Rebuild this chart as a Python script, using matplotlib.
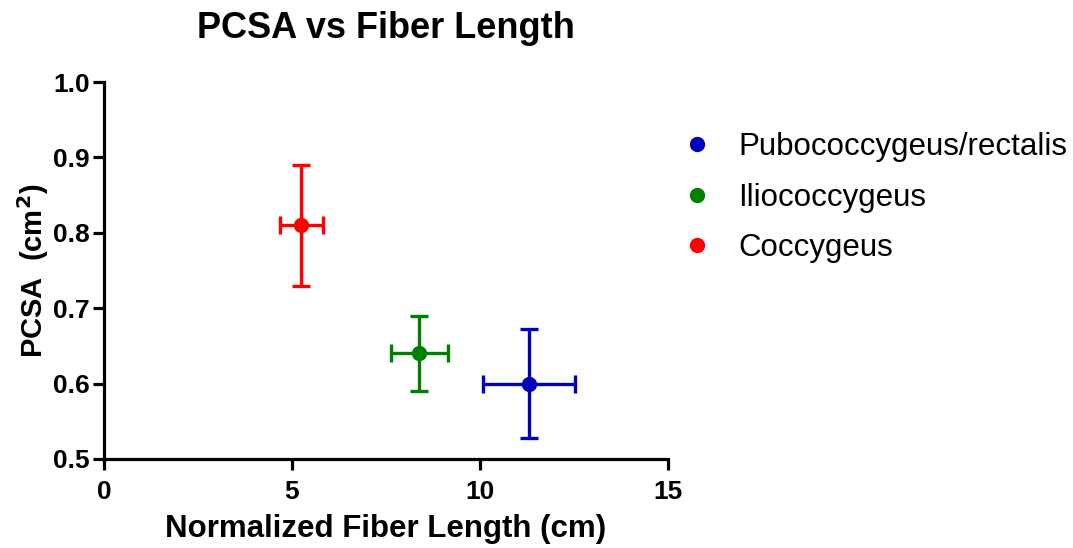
import matplotlib
matplotlib.use("Agg")
import matplotlib.pyplot as plt
from matplotlib.lines import Line2D

plt.rcParams['font.family'] = ['Liberation Sans', 'DejaVu Sans']

# Data
muscles = ["Pubococcygeus/rectalis", "Iliococcygeus", "Coccygeus"]
fiber_length = [11.3, 8.38, 5.25]
fiber_length_err = [1.23, 0.76, 0.58]
pcsa = [0.600, 0.640, 0.810]
pcsa_err = [0.072, 0.050, 0.080]
colors = ["#0000BB", "#008000", "#FF0000"]
x_ticks = [0, 5, 10, 15]
y_ticks = [0.5, 0.6, 0.7, 0.8, 0.9, 1.0]

fig = plt.figure(figsize=(10.73, 5.48), dpi=100)
ax = fig.add_axes([104/1073, 1 - 459/548, 564/1073, 377/548])

handles = []
for name, x, xe, y, ye, c in zip(muscles, fiber_length, fiber_length_err, pcsa, pcsa_err, colors):
    ax.errorbar(x, y, xerr=xe, yerr=ye, fmt='o', color=c, ecolor=c,
                markersize=10, elinewidth=2.4, capsize=6.5, capthick=2.4, zorder=3,
                clip_on=False)
    handles.append(Line2D([0], [0], marker='o', linestyle='none', color=c,
                          markersize=10, label=name))

ax.set_xlim(0, 15)
ax.set_ylim(0.5, 1.0)
ax.set_xticks(x_ticks)
ax.set_yticks(y_ticks)
ax.set_xticklabels([str(v) for v in x_ticks])
ax.set_yticklabels([f"{v:.1f}" for v in y_ticks])

for s in ['top', 'right']:
    ax.spines[s].set_visible(False)
for s in ['left', 'bottom']:
    ax.spines[s].set_linewidth(2.3)
ax.tick_params(axis='both', which='major', length=8, width=2.3, direction='out',
               labelsize=19)
ax.tick_params(axis='x', pad=7)
ax.tick_params(axis='y', pad=2)
for lab in ax.get_xticklabels() + ax.get_yticklabels():
    lab.set_fontweight('bold')

ax.set_xlabel("Normalized Fiber Length (cm)", fontsize=22.5, fontweight='bold', labelpad=7)
ax.set_ylabel("PCSA  (cm$^\\mathbf{2}$)", fontsize=21, fontweight='bold')
ax.yaxis.set_label_coords(-0.094, 0.5)
ax.set_title("PCSA vs Fiber Length", fontsize=26, fontweight='bold', pad=32)

fig.legend(handles=handles, loc='upper left', bbox_to_anchor=(681.5/1073, 1 - 132/548),
           frameon=False, fontsize=22.5, handlelength=1.0, handletextpad=0.82,
           labelspacing=0.66, borderpad=0, borderaxespad=0)

fig.savefig("out.png", dpi=100)
